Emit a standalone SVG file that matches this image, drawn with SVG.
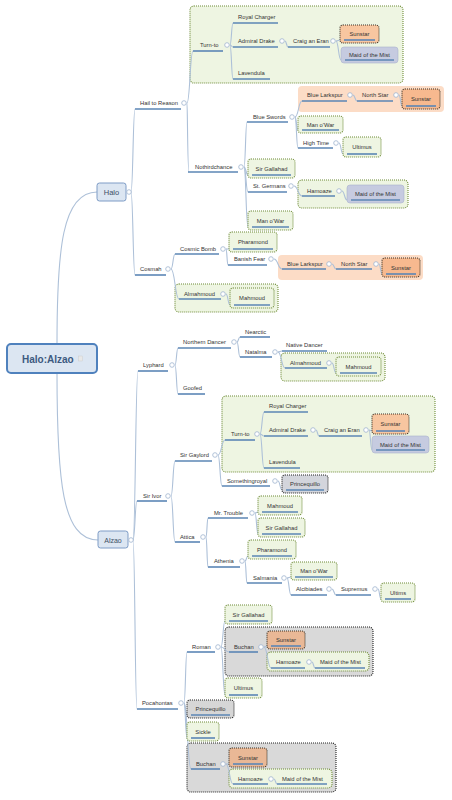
<svg xmlns="http://www.w3.org/2000/svg" width="452" height="800" viewBox="0 0 452 800">
<style>
.t{font-family:"Liberation Sans",Arial,sans-serif;font-size:5.8px;fill:#333}
.m{text-anchor:middle}
.u{stroke:#5b86b5;stroke-width:1.6}
.c{fill:#fff;stroke:#9fb4cf;stroke-width:0.8}
.ln{fill:none;stroke:#adc0d8;stroke-width:1.1}
.gg{fill:#eef5e2;stroke:#6f8c38;stroke-width:1.1;stroke-dasharray:1 1}
.go{fill:#fcdcc6}
.gd{fill:#d9d9d9;stroke:#222;stroke-width:1.1;stroke-dasharray:1 1}
.bs{fill:#f8c6a0;stroke:#3d3326;stroke-width:1.1;stroke-dasharray:1 1}
.bm{fill:#c6cbe0;stroke:#aab2cf;stroke-width:0.6}
.bp{fill:#d3d5dc;stroke:#222;stroke-width:1.1;stroke-dasharray:1 1}
</style>
<rect width="452" height="800" fill="#fff"/>
<g id="boundaries">
<rect class="gg" x="190" y="6" width="213" height="77" rx="4"/>
<rect class="go" x="298" y="86" width="146" height="26" rx="4"/>
<rect class="gg" x="298" y="180" width="110" height="28" rx="4"/>
<rect class="go" x="278" y="255" width="145" height="25" rx="4"/>
<rect class="gg" x="175" y="284" width="103" height="28" rx="4"/>
<rect class="gg" x="281" y="353" width="104" height="28" rx="4"/>
<rect class="gg" x="222" y="396" width="213" height="76" rx="4"/>
<rect class="gd" x="225" y="627" width="148" height="49" rx="4"/>
<rect class="gg" x="267" y="652" width="102" height="19" rx="4"/>
<rect class="gd" x="187" y="743" width="149" height="49" rx="4"/>
<rect class="gg" x="229" y="769" width="103" height="19" rx="4"/>
</g>
<g id="connectors">
<path class="ln" d="M57 344 C57 250 62 192 97 192"/>
<path class="ln" d="M57 373 C57 480 62 540 98 540"/>
<path class="ln" d="M131 192 C133 192 133 109 135 109"/>
<path class="ln" d="M131 192 C133 192 133 275 135 275"/>
<path class="ln" d="M187 103 C190 103 190 51 193 51"/>
<path class="ln" d="M187 103 C187.5 103 187.5 172 189 172"/>
<path class="ln" d="M230 45 C231.5 45 231.5 23 233 23"/>
<path class="ln" d="M230 45 C231.5 45 231.5 47 233 47"/>
<path class="ln" d="M230 45 C231.5 45 231.5 79 233 79"/>
<path class="ln" d="M285 41 C286.5 41 286.5 47 288 47"/>
<path class="ln" d="M336 41 C338 41 338 40 340 40"/>
<path class="ln" d="M336 41 C338.5 41 338.5 60 341 60"/>
<path class="ln" d="M244 167 C245.5 167 245.5 122 247 122"/>
<path class="ln" d="M244 167 C246 167 246 175 248 175"/>
<path class="ln" d="M244 167 C246 167 246 192 248 192"/>
<path class="ln" d="M244 167 C246 167 246 227 248 227"/>
<path class="ln" d="M295 117 C298.5 117 298.5 101 302 101"/>
<path class="ln" d="M295 117 C296.5 117 296.5 130 298 130"/>
<path class="ln" d="M295 117 C296.5 117 296.5 148 298 148"/>
<path class="ln" d="M353 95 C355 95 355 101 357 101"/>
<path class="ln" d="M399 95 C400.5 95 400.5 106 402 106"/>
<path class="ln" d="M339 143 C341 143 341 154 343 154"/>
<path class="ln" d="M294 186 C298 186 298 196 302 196"/>
<path class="ln" d="M342 191 C344.5 191 344.5 200 347 200"/>
<path class="ln" d="M171 269 C173 269 173 254 175 254"/>
<path class="ln" d="M171 269 C175 269 175 299 179 299"/>
<path class="ln" d="M226 249 L229 249"/>
<path class="ln" d="M226 249 C227 249 227 265 228 265"/>
<path class="ln" d="M274 259 C278 259 278 269 282 269"/>
<path class="ln" d="M332 264 C334 264 334 269 336 269"/>
<path class="ln" d="M379 264 C380.5 264 380.5 274 382 274"/>
<path class="ln" d="M226 294 C228 294 228 305 230 305"/>
<path class="ln" d="M133 540 C135.5 540 135.5 371 138 371"/>
<path class="ln" d="M133 540 C135 540 135 501 137 501"/>
<path class="ln" d="M133 540 C135 540 135 709 137 709"/>
<path class="ln" d="M175 365 C176.5 365 176.5 348 178 348"/>
<path class="ln" d="M175 365 C176.5 365 176.5 394 178 394"/>
<path class="ln" d="M237 342 C238.5 342 238.5 337 240 337"/>
<path class="ln" d="M237 342 C238.5 342 238.5 357 240 357"/>
<path class="ln" d="M278 352 C280 352 280 351 282 351"/>
<path class="ln" d="M278 352 C281.5 352 281.5 368 285 368"/>
<path class="ln" d="M332 363 C334 363 334 373 336 373"/>
<path class="ln" d="M171 496 C173 496 173 461 175 461"/>
<path class="ln" d="M171 496 C173 496 173 542 175 542"/>
<path class="ln" d="M218 455 C221.5 455 221.5 440 225 440"/>
<path class="ln" d="M218 455 C220 455 220 486 222 486"/>
<path class="ln" d="M260 434 C262 434 262 412 264 412"/>
<path class="ln" d="M260 434 C262 434 262 436 264 436"/>
<path class="ln" d="M260 434 C262 434 262 468 264 468"/>
<path class="ln" d="M316 430 C317.5 430 317.5 436 319 436"/>
<path class="ln" d="M369 430 C370.5 430 370.5 431 372 431"/>
<path class="ln" d="M369 430 C370.5 430 370.5 450 372 450"/>
<path class="ln" d="M278 481 C280 481 280 490 282 490"/>
<path class="ln" d="M206 537 C207 537 207 518 208 518"/>
<path class="ln" d="M206 537 C207 537 207 567 208 567"/>
<path class="ln" d="M255 513 C256.5 513 256.5 512 258 512"/>
<path class="ln" d="M255 513 C256.5 513 256.5 534 258 534"/>
<path class="ln" d="M245 561 C246.5 561 246.5 556 248 556"/>
<path class="ln" d="M245 561 C246 561 246 583 247 583"/>
<path class="ln" d="M287 578 C289 578 289 577 291 577"/>
<path class="ln" d="M287 578 C289 578 289 595 291 595"/>
<path class="ln" d="M332 589 C334 589 334 595 336 595"/>
<path class="ln" d="M378 589 C379.5 589 379.5 599 381 599"/>
<path class="ln" d="M184 703 C185.5 703 185.5 652 187 652"/>
<path class="ln" d="M184 703 C185.5 703 185.5 715 187 715"/>
<path class="ln" d="M184 703 C185.5 703 185.5 738 187 738"/>
<path class="ln" d="M184 703 C187.5 703 187.5 769 191 769"/>
<path class="ln" d="M221 647 C223 647 223 621 225 621"/>
<path class="ln" d="M221 647 C225 647 225 652 229 652"/>
<path class="ln" d="M221 647 C223 647 223 695 225 695"/>
<path class="ln" d="M264 647 C265.5 647 265.5 646 267 646"/>
<path class="ln" d="M264 647 C267.5 647 267.5 668 271 668"/>
<path class="ln" d="M312 662 C313.5 662 313.5 668 315 668"/>
<path class="ln" d="M226 764 L229 764"/>
<path class="ln" d="M226 764 C229.5 764 229.5 784 233 784"/>
<path class="ln" d="M274 779 C275.5 779 275.5 784 277 784"/>
</g>
<g id="n-root"><rect x="7" y="344" width="90" height="29" rx="4" fill="#dce6f2" stroke="#4f81bd" stroke-width="2"/><text x="22" y="362.5" style="font-family:'Liberation Sans',Arial,sans-serif;font-size:10px;font-weight:bold;fill:#3d5a80">Halo:Alzao</text><rect x="78.5" y="356" width="4" height="5" fill="#e8e8e8" stroke="#c8c8c8" stroke-width="0.4"/></g>
<g id="n-halo"><rect x="97" y="183" width="29" height="18" rx="2.5" fill="#dce6f2" stroke="#7e9cc6" stroke-width="1"/><text x="111.5" y="194.7" style="font-family:'Liberation Sans',Arial,sans-serif;font-size:7.5px;fill:#3d4f66;text-anchor:middle">Halo</text><circle class="c" cx="129" cy="192" r="2.3"/></g>
<g id="n-alzao"><rect x="98" y="531" width="30" height="17" rx="2.5" fill="#dce6f2" stroke="#7e9cc6" stroke-width="1"/><text x="113" y="542.5" style="font-family:'Liberation Sans',Arial,sans-serif;font-size:7px;fill:#3d4f66;text-anchor:middle">Alzao</text><circle class="c" cx="131" cy="540" r="2.3"/></g>
<g id="n-hail"><text class="t" x="140" y="105">Hail to Reason</text><line class="u" x1="135" y1="109" x2="181" y2="109"/><circle class="c" cx="184" cy="103" r="2.3"/></g>
<g id="n-turnto1"><text class="t" x="200" y="47">Turn-to</text><line class="u" x1="193" y1="51" x2="223" y2="51"/><circle class="c" cx="227" cy="45" r="2.3"/></g>
<g id="n-royal1"><text class="t" x="238" y="19">Royal Charger</text><line class="u" x1="233" y1="23" x2="278" y2="23"/></g>
<g id="n-admiral1"><text class="t" x="238" y="43">Admiral Drake</text><line class="u" x1="233" y1="47" x2="278" y2="47"/><circle class="c" cx="282" cy="41" r="2.3"/></g>
<g id="n-craig1"><text class="t" x="293" y="43">Craig an Eran</text><line class="u" x1="288" y1="47" x2="330" y2="47"/><circle class="c" cx="333" cy="41" r="2.3"/></g>
<g id="n-lav1"><text class="t" x="238" y="75">Lavendula</text><line class="u" x1="233" y1="79" x2="270" y2="79"/></g>
<g id="n-noth"><text class="t" x="195" y="169">Nothirdchance</text><line class="u" x1="188" y1="172" x2="238" y2="172"/><circle class="c" cx="241" cy="167" r="2.3"/></g>
<g id="n-bsw"><text class="t" x="253" y="119">Blue Swords</text><line class="u" x1="247" y1="122" x2="288" y2="122"/><circle class="c" cx="292" cy="117" r="2.3"/></g>
<g id="n-blue1"><text class="t" x="307" y="97">Blue Larkspur</text><line class="u" x1="302" y1="101" x2="347" y2="101"/><circle class="c" cx="350" cy="95" r="2.3"/></g>
<g id="n-ns1"><text class="t" x="362" y="97">North Star</text><line class="u" x1="357" y1="101" x2="393" y2="101"/><circle class="c" cx="396" cy="95" r="2.3"/></g>
<g id="n-ht"><text class="t" x="303" y="145">High Time</text><line class="u" x1="298" y1="148" x2="333" y2="148"/><circle class="c" cx="336" cy="143" r="2.3"/></g>
<g id="n-stg"><text class="t" x="253" y="188">St. Germans</text><line class="u" x1="248" y1="192" x2="287" y2="192"/><circle class="c" cx="291" cy="186" r="2.3"/></g>
<g id="n-ham1"><text class="t" x="307" y="193">Hamoaze</text><line class="u" x1="302" y1="196" x2="335" y2="196"/><circle class="c" cx="339" cy="191" r="2.3"/></g>
<g id="n-cosmah"><text class="t" x="140" y="271">Cosmah</text><line class="u" x1="135" y1="275" x2="166" y2="275"/><circle class="c" cx="168" cy="269" r="2.3"/></g>
<g id="n-cb"><text class="t" x="180" y="251">Cosmic Bomb</text><line class="u" x1="175" y1="254" x2="219" y2="254"/><circle class="c" cx="223" cy="249" r="2.3"/></g>
<g id="n-bf"><text class="t" x="234" y="261">Banish Fear</text><line class="u" x1="228" y1="265" x2="267" y2="265"/><circle class="c" cx="271" cy="259" r="2.3"/></g>
<g id="n-blue2"><text class="t" x="287" y="266">Blue Larkspur</text><line class="u" x1="282" y1="269" x2="326" y2="269"/><circle class="c" cx="329" cy="264" r="2.3"/></g>
<g id="n-ns2"><text class="t" x="341" y="266">North Star</text><line class="u" x1="336" y1="269" x2="372" y2="269"/><circle class="c" cx="376" cy="264" r="2.3"/></g>
<g id="n-alm1"><text class="t" x="184" y="296">Almahmoud</text><line class="u" x1="179" y1="299" x2="221" y2="299"/><circle class="c" cx="223" cy="294" r="2.3"/></g>
<g id="n-lyph"><text class="t" x="143" y="367">Lyphard</text><line class="u" x1="138" y1="371" x2="168" y2="371"/><circle class="c" cx="172" cy="365" r="2.3"/></g>
<g id="n-nd"><text class="t" x="183" y="344">Northern Dancer</text><line class="u" x1="178" y1="348" x2="231" y2="348"/><circle class="c" cx="234" cy="342" r="2.3"/></g>
<g id="n-goof"><text class="t" x="183" y="390">Goofed</text><line class="u" x1="178" y1="394" x2="205" y2="394"/></g>
<g id="n-nearc"><text class="t" x="245" y="334">Nearctic</text><line class="u" x1="240" y1="337" x2="270" y2="337"/></g>
<g id="n-nat"><text class="t" x="245" y="354">Natalma</text><line class="u" x1="240" y1="357" x2="272" y2="357"/><circle class="c" cx="275" cy="352" r="2.3"/></g>
<g id="n-natd"><text class="t" x="286" y="347">Native Dancer</text><line class="u" x1="282" y1="351" x2="327" y2="351"/></g>
<g id="n-alm2"><text class="t" x="290" y="365">Almahmoud</text><line class="u" x1="285" y1="368" x2="327" y2="368"/><circle class="c" cx="329" cy="363" r="2.3"/></g>
<g id="n-sirivor"><text class="t" x="143" y="498">Sir Ivor</text><line class="u" x1="137" y1="501" x2="167" y2="501"/><circle class="c" cx="168" cy="496" r="2.3"/></g>
<g id="n-sg"><text class="t" x="180" y="457">Sir Gaylord</text><line class="u" x1="175" y1="461" x2="212" y2="461"/><circle class="c" cx="215" cy="455" r="2.3"/></g>
<g id="n-turnto2"><text class="t" x="231" y="436">Turn-to</text><line class="u" x1="225" y1="440" x2="255" y2="440"/><circle class="c" cx="257" cy="434" r="2.3"/></g>
<g id="n-royal2"><text class="t" x="269" y="408">Royal Charger</text><line class="u" x1="264" y1="412" x2="308" y2="412"/></g>
<g id="n-adm2"><text class="t" x="269" y="432">Admiral Drake</text><line class="u" x1="264" y1="436" x2="308" y2="436"/><circle class="c" cx="313" cy="430" r="2.3"/></g>
<g id="n-craig2"><text class="t" x="324" y="432">Craig an Eran</text><line class="u" x1="319" y1="436" x2="362" y2="436"/><circle class="c" cx="366" cy="430" r="2.3"/></g>
<g id="n-lav2"><text class="t" x="269" y="464">Lavendula</text><line class="u" x1="264" y1="468" x2="300" y2="468"/></g>
<g id="n-sroyal"><text class="t" x="227" y="483">Somethingroyal</text><line class="u" x1="222" y1="486" x2="270" y2="486"/><circle class="c" cx="275" cy="481" r="2.3"/></g>
<g id="n-attica"><text class="t" x="180" y="539">Attica</text><line class="u" x1="175" y1="542" x2="200" y2="542"/><circle class="c" cx="203" cy="537" r="2.3"/></g>
<g id="n-mrt"><text class="t" x="214" y="515">Mr. Trouble</text><line class="u" x1="208" y1="518" x2="248" y2="518"/><circle class="c" cx="252" cy="513" r="2.3"/></g>
<g id="n-ath"><text class="t" x="214" y="563">Athenia</text><line class="u" x1="208" y1="567" x2="240" y2="567"/><circle class="c" cx="242" cy="561" r="2.3"/></g>
<g id="n-salm"><text class="t" x="253" y="580">Salmania</text><line class="u" x1="247" y1="583" x2="282" y2="583"/><circle class="c" cx="284" cy="578" r="2.3"/></g>
<g id="n-alc"><text class="t" x="296" y="591">Alcibiades</text><line class="u" x1="291" y1="595" x2="327" y2="595"/><circle class="c" cx="329" cy="589" r="2.3"/></g>
<g id="n-sup"><text class="t" x="341" y="591">Supremus</text><line class="u" x1="336" y1="595" x2="371" y2="595"/><circle class="c" cx="375" cy="589" r="2.3"/></g>
<g id="n-poca"><text class="t" x="142" y="705">Pocahontas</text><line class="u" x1="137" y1="709" x2="178" y2="709"/><circle class="c" cx="181" cy="703" r="2.3"/></g>
<g id="n-roman"><text class="t" x="192" y="649">Roman</text><line class="u" x1="187" y1="652" x2="215" y2="652"/><circle class="c" cx="218" cy="647" r="2.3"/></g>
<g id="n-buch1"><text class="t" x="234" y="649">Buchan</text><line class="u" x1="229" y1="652" x2="258" y2="652"/><circle class="c" cx="261" cy="647" r="2.3"/></g>
<g id="n-ham3"><text class="t" x="276" y="664">Hamoaze</text><line class="u" x1="271" y1="668" x2="305" y2="668"/><circle class="c" cx="309" cy="662" r="2.3"/></g>
<g id="n-mom3"><text class="t" x="320" y="664">Maid of the Mist</text><line class="u" x1="315" y1="668" x2="365" y2="668"/></g>
<g id="n-buch2"><text class="t" x="196" y="766">Buchan</text><line class="u" x1="191" y1="769" x2="220" y2="769"/><circle class="c" cx="223" cy="764" r="2.3"/></g>
<g id="n-ham4"><text class="t" x="238" y="781">Hamoaze</text><line class="u" x1="233" y1="784" x2="268" y2="784"/><circle class="c" cx="271" cy="779" r="2.3"/></g>
<g id="n-mom4"><text class="t" x="282" y="781">Maid of the Mist</text><line class="u" x1="277" y1="784" x2="327" y2="784"/></g>
<g id="b-s1"><rect class="bs" x="340" y="25" width="39" height="18" rx="3"/><text class="t m" x="359.5" y="36">Sunstar</text><line class="u" x1="344" y1="40" x2="375" y2="40"/></g>
<g id="b-m1"><rect class="bm" x="341" y="47" width="57" height="16" rx="3"/><text class="t m" x="369.5" y="57">Maid of the Mist</text><line class="u" x1="345" y1="60" x2="394" y2="60"/></g>
<g id="b-s2"><rect class="bs" x="402" y="89" width="38" height="20" rx="3" style="fill:#f7b98f"/><text class="t m" x="421" y="101">Sunstar</text><line class="u" x1="406" y1="106" x2="436" y2="106"/></g>
<g id="b-mw1"><rect class="gg" x="298" y="116" width="45" height="17" rx="3"/><text class="t m" x="320.5" y="126.5">Man o'War</text><line class="u" x1="302" y1="130" x2="339" y2="130"/></g>
<g id="b-ul1"><rect class="gg" x="343" y="137" width="38" height="20" rx="3"/><text class="t m" x="362" y="149">Ultimus</text><line class="u" x1="347" y1="154" x2="377" y2="154"/></g>
<g id="b-sga1"><rect class="gg" x="248" y="159" width="47" height="19" rx="3"/><text class="t m" x="271.5" y="170.5">Sir Gallahad</text><line class="u" x1="252" y1="175" x2="291" y2="175"/></g>
<g id="b-m2"><rect class="bm" x="347" y="185" width="57" height="18" rx="3"/><text class="t m" x="375.5" y="196">Maid of the Mist</text><line class="u" x1="351" y1="200" x2="400" y2="200"/></g>
<g id="b-mw2"><rect class="gg" x="248" y="211" width="45" height="19" rx="3"/><text class="t m" x="270.5" y="222.5">Man o'War</text><line class="u" x1="252" y1="227" x2="289" y2="227"/></g>
<g id="b-ph1"><rect class="gg" x="229" y="232" width="48" height="20" rx="3"/><text class="t m" x="253" y="244">Pharamond</text><line class="u" x1="233" y1="249" x2="273" y2="249"/></g>
<g id="b-s3"><rect class="bs" x="382" y="258" width="38" height="19" rx="3" style="fill:#f7b98f"/><text class="t m" x="401" y="269.5">Sunstar</text><line class="u" x1="386" y1="274" x2="416" y2="274"/></g>
<g id="b-ma1"><rect class="gg" x="230" y="288" width="44" height="20" rx="3"/><text class="t m" x="252" y="300">Mahmoud</text><line class="u" x1="234" y1="305" x2="270" y2="305"/></g>
<g id="b-ma2"><rect class="gg" x="336" y="357" width="45" height="19" rx="3"/><text class="t m" x="358.5" y="368.5">Mahmoud</text><line class="u" x1="340" y1="373" x2="377" y2="373"/></g>
<g id="b-s4"><rect class="bs" x="372" y="414" width="37" height="20" rx="3"/><text class="t m" x="390.5" y="426">Sunstar</text><line class="u" x1="376" y1="431" x2="405" y2="431"/></g>
<g id="b-m3"><rect class="bm" x="372" y="436" width="57" height="17" rx="3"/><text class="t m" x="400.5" y="446.5">Maid of the Mist</text><line class="u" x1="376" y1="450" x2="425" y2="450"/></g>
<g id="b-pq1"><rect class="bp" x="282" y="475" width="46" height="18" rx="3"/><text class="t m" x="305" y="486">Princequillo</text><line class="u" x1="286" y1="490" x2="324" y2="490"/></g>
<g id="b-ma3"><rect class="gg" x="258" y="496" width="44" height="19" rx="3"/><text class="t m" x="280" y="507.5">Mahmoud</text><line class="u" x1="262" y1="512" x2="298" y2="512"/></g>
<g id="b-sga2"><rect class="gg" x="258" y="518" width="47" height="19" rx="3"/><text class="t m" x="281.5" y="529.5">Sir Gallahad</text><line class="u" x1="262" y1="534" x2="301" y2="534"/></g>
<g id="b-ph2"><rect class="gg" x="248" y="540" width="48" height="19" rx="3"/><text class="t m" x="272" y="551.5">Pharamond</text><line class="u" x1="252" y1="556" x2="292" y2="556"/></g>
<g id="b-mw3"><rect class="gg" x="291" y="562" width="46" height="18" rx="3"/><text class="t m" x="314" y="573">Man o'War</text><line class="u" x1="295" y1="577" x2="333" y2="577"/></g>
<g id="b-uls"><rect class="gg" x="381" y="583" width="34" height="19" rx="3"/><text class="t m" x="398" y="594.5">Ultims</text><line class="u" x1="385" y1="599" x2="411" y2="599"/></g>
<g id="b-sga3"><rect class="gg" x="225" y="605" width="47" height="19" rx="3"/><text class="t m" x="248.5" y="616.5">Sir Gallahad</text><line class="u" x1="229" y1="621" x2="268" y2="621"/></g>
<g id="b-s5"><rect class="bs" x="267" y="631" width="38" height="18" rx="3" style="fill:#e9b896"/><text class="t m" x="286" y="642">Sunstar</text><line class="u" x1="271" y1="646" x2="301" y2="646"/></g>
<g id="b-ul2"><rect class="gg" x="225" y="678" width="37" height="20" rx="3"/><text class="t m" x="243.5" y="690">Ultimus</text><line class="u" x1="229" y1="695" x2="258" y2="695"/></g>
<g id="b-pq2"><rect class="bp" x="187" y="700" width="47" height="18" rx="3" style="fill:#d6d6d6"/><text class="t m" x="210.5" y="711">Princequillo</text><line class="u" x1="191" y1="715" x2="230" y2="715"/></g>
<g id="b-sk"><rect class="gg" x="187" y="722" width="32" height="19" rx="3"/><text class="t m" x="203" y="733.5">Sickle</text><line class="u" x1="191" y1="738" x2="215" y2="738"/></g>
<g id="b-s6"><rect class="bs" x="229" y="748" width="38" height="19" rx="3" style="fill:#e9b896"/><text class="t m" x="248" y="759.5">Sunstar</text><line class="u" x1="233" y1="764" x2="263" y2="764"/></g>
</svg>
